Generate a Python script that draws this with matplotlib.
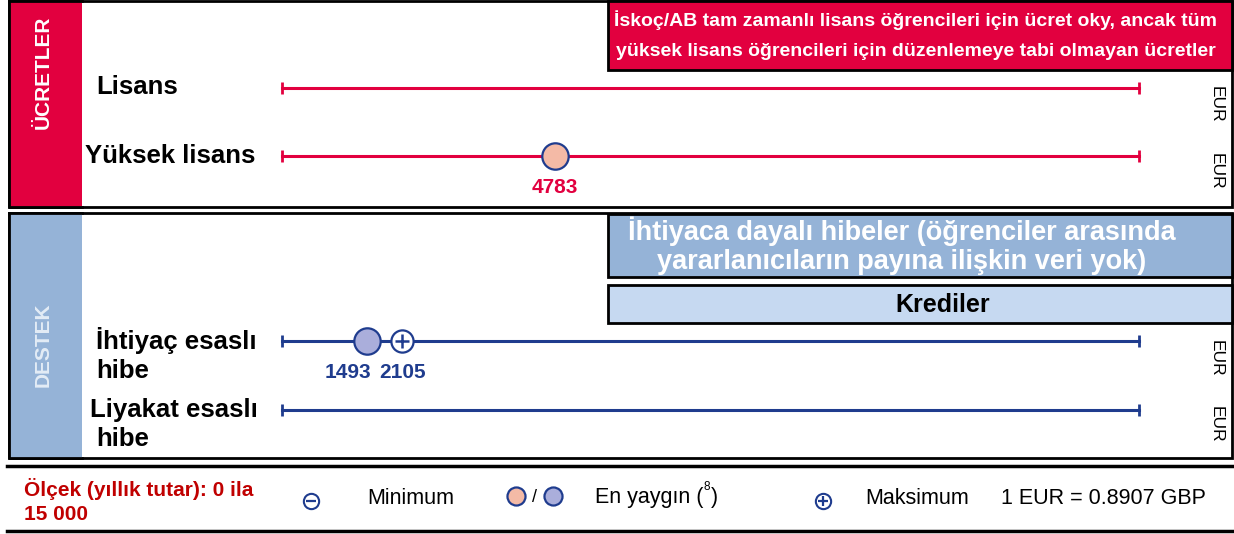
import matplotlib.pyplot as plt
from matplotlib.patches import Rectangle

# scale and values (EUR per year)
scale_max = 15000
fee_rows = ["Lisans", "Yüksek lisans"]
fee_common = [None, 4783]
support_rows = ["İhtiyaç esaslı", "Liyakat esaslı"]
support_common = [1493, None]
support_max = [2105, None]

fee_note = ("İskoç/AB tam zamanlı lisans öğrencileri için ücret oky, ancak tüm\n"
            "yüksek lisans öğrencileri için düzenlemeye tabi olmayan ücretler")
grant_note = "İhtiyaca dayalı hibeler (öğrenciler arasında\nyararlanıcıların payına ilişkin veri yok)"
loan_note = "Krediler"

RED = "#E2003F"
NAVY = "#1F3C8E"
SIDE_BLUE = "#95B3D7"
LIGHT_BLUE = "#C6D9F1"
PINK = "#F4BAA6"
LILAC = "#AAAEDB"

plt.rcParams["font.family"] = ["Liberation Sans", "DejaVu Sans"]

W, H = 1234, 534
fig = plt.figure(figsize=(W / 100, H / 100), dpi=100)

# background layer in pixel units
bg = fig.add_axes([0, 0, 1, 1])
bg.set_xlim(0, W)
bg.set_ylim(H, 0)
bg.axis("off")


def box(x0, y0, x1, y1, fc, lw=2.0, ec="black"):
    bg.add_patch(Rectangle((x0, y0), x1 - x0, y1 - y0, fc=fc, ec=ec, lw=lw, zorder=1))


# panels with coloured side strips
box(9, 1, 1232, 207, "white")
box(9, 1, 82, 207, RED, lw=0)
box(9, 213, 1232, 458, "white")
box(9, 213, 82, 458, SIDE_BLUE, lw=0)
for ya, yb in [(1, 207), (213, 458)]:
    bg.plot([9, 9, 82], [ya, yb, yb], color="black", lw=2, zorder=2)
    bg.plot([9, 82], [ya, ya], color="black", lw=2, zorder=2)

bg.text(43, 72, "ÜCRETLER", rotation=90, ha="center", va="center",
        color="white", fontsize=15, fontweight="bold", zorder=3)
bg.text(43, 345, "DESTEK", rotation=90, ha="center", va="center",
        color="#E3ECF6", fontsize=15, fontweight="bold", zorder=3)

# note boxes
box(608, 1, 1232, 70, RED)
bg.text(916, 35, fee_note, ha="center", va="center", color="white",
        fontsize=14, fontweight="bold", linespacing=2.0, zorder=3)
box(608, 214, 1232, 277, SIDE_BLUE)
bg.text(902, 246, grant_note, ha="center", va="center", color="white",
        fontsize=19.5, fontweight="bold", linespacing=1.15, zorder=3)
box(608, 285, 1232, 323, LIGHT_BLUE)
bg.text(943, 305, loan_note, ha="center", va="center", color="black",
        fontsize=18, fontweight="bold", zorder=3)

# row labels and unit labels
fee_y = [88, 156]
support_y = [341, 410]
bg.text(96, 87, fee_rows[0], ha="left", va="center", fontsize=18.5, fontweight="bold")
bg.text(85, 156, fee_rows[1], ha="left", va="center", fontsize=18.5, fontweight="bold")
bg.text(96, 340, support_rows[0], ha="left", va="center", fontsize=18.5, fontweight="bold")
bg.text(96, 371, "hibe", ha="left", va="center", fontsize=18.5, fontweight="bold")
bg.text(90, 410, support_rows[1], ha="left", va="center", fontsize=18.5, fontweight="bold")
bg.text(96, 439, "hibe", ha="left", va="center", fontsize=18.5, fontweight="bold")
for yy in [104, 171, 358, 424]:
    bg.text(1216, yy, "EUR", rotation=-90, ha="center", va="center", fontsize=12.5)

# data layer: x in EUR, y in pixels
x0_px, x1_px = 282, 1139
ax = fig.add_axes([x0_px / W, 0, (x1_px - x0_px) / W, 1])
ax.set_xlim(0, scale_max)
ax.set_ylim(H, 0)
ax.axis("off")


def scale_line(y, color):
    ax.plot([0, scale_max], [y, y], color=color, lw=2.2, zorder=4, clip_on=False)
    ax.plot([0, scale_max], [y, y], ls="none", marker="|", ms=9, mew=2,
            color=color, zorder=4, clip_on=False)


def value_label(v, y, color, shift=0):
    ax.annotate(f"{v}", (v, y), xytext=(shift, -23), textcoords="offset points",
                ha="center", va="center", color=color, fontsize=15, fontweight="bold")


for y, v in zip(fee_y, fee_common):
    scale_line(y, RED)
    if v is not None:
        ax.plot(v, y, "o", ms=19, mfc=PINK, mec=NAVY, mew=1.6, zorder=5, clip_on=False)
        value_label(v, y, RED)

for y, c, m in zip(support_y, support_common, support_max):
    scale_line(y, NAVY)
    if c is not None:
        ax.plot(c, y, "o", ms=19, mfc=LILAC, mec=NAVY, mew=1.6, zorder=5, clip_on=False)
        close = m is not None and m - c < 1500
        value_label(c, y, NAVY, shift=-14 if close else 0)
    if m is not None:
        ax.plot(m, y, "o", ms=16, mfc="white", mec=NAVY, mew=1.6, zorder=6, clip_on=False)
        ax.plot(m, y, "+", ms=10, mec=NAVY, mew=1.8, zorder=7, clip_on=False)
        value_label(m, y, NAVY)

# legend strip
bg.plot([7, 1232], [466, 466], color="black", lw=2.5)
bg.plot([7, 1232], [531, 531], color="black", lw=2.5)
bg.text(24, 501, "Ölçek (yıllık tutar): 0 ila\n15 000", ha="left", va="center",
        color="#C00000", fontsize=15, fontweight="bold", linespacing=1.3)
bg.plot(311, 501, "o", ms=11, mfc="white", mec=NAVY, mew=1.5)
bg.plot(311, 501, "_", ms=7, mec=NAVY, mew=1.6)
bg.text(367, 498, "Minimum", ha="left", va="center", fontsize=15.5)
bg.plot(516, 496, "o", ms=13, mfc=PINK, mec=NAVY, mew=1.6)
bg.text(535, 497, "/", ha="center", va="center", fontsize=13)
bg.plot(553, 496, "o", ms=13, mfc=LILAC, mec=NAVY, mew=1.6)
bg.text(595, 498, "En yaygın (", ha="left", va="center", fontsize=15.5)
bg.text(703, 487, "8", ha="left", va="center", fontsize=8.5)
bg.text(711, 498, ")", ha="left", va="center", fontsize=15.5)
bg.plot(823, 501, "o", ms=11, mfc="white", mec=NAVY, mew=1.5)
bg.plot(823, 501, "+", ms=7, mec=NAVY, mew=1.6)
bg.text(865, 498, "Maksimum", ha="left", va="center", fontsize=15.5)
bg.text(1001, 498, "1 EUR = 0.8907 GBP", ha="left", va="center", fontsize=15.5)

fig.savefig("out.png", dpi=100)
